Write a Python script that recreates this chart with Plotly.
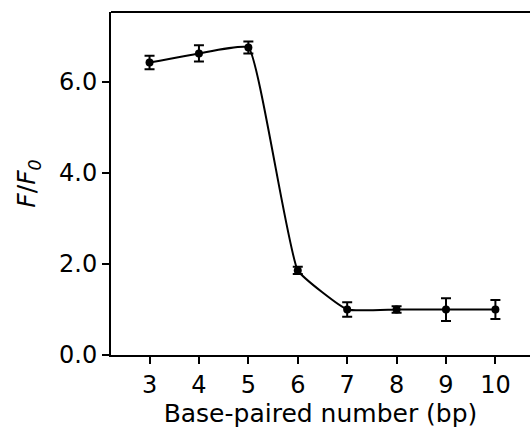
import plotly.graph_objects as go

bp = [3, 4, 5, 6, 7, 8, 9, 10]
ratio = [6.43, 6.63, 6.76, 1.86, 1.0, 1.0, 1.0, 1.0]
err = [0.15, 0.18, 0.13, 0.08, 0.16, 0.07, 0.25, 0.21]
x_ticks = [3, 4, 5, 6, 7, 8, 9, 10]
y_ticks = [0, 2, 4, 6]
y_labels = ["0.0", "2.0", "4.0", "6.0"]

FONT = "DejaVu Sans, Liberation Sans, Arial, sans-serif"

fig = go.Figure()
fig.add_trace(go.Scatter(
    x=bp, y=ratio, mode="lines+markers",
    line=dict(color="black", width=2, shape="spline", smoothing=0.35),
    marker=dict(color="black", size=8),
    error_y=dict(type="data", array=err, color="black", thickness=2, width=5),
    showlegend=False,
))

fig.update_layout(
    width=530, height=434,
    margin=dict(l=111, r=0, t=12, b=79),
    paper_bgcolor="white", plot_bgcolor="white",
    font=dict(family=FONT, size=24, color="black"),
    xaxis=dict(
        range=[2.22, 10.7], tickmode="array", tickvals=x_ticks,
        showline=True, linecolor="black", linewidth=2,
        ticks="outside", ticklen=7, tickwidth=2, tickcolor="black",
        showgrid=False, zeroline=False,
        tickfont=dict(size=24),
        title=dict(text="Base-paired number (bp)", standoff=6,
                   font=dict(size=25)),
    ),
    yaxis=dict(
        range=[0, 7.54], tickmode="array", tickvals=y_ticks, ticktext=y_labels,
        showline=True, linecolor="black", linewidth=2,
        ticks="outside", ticklen=7, tickwidth=2, tickcolor="black",
        showgrid=False, zeroline=False,
        tickfont=dict(size=24),
        title=dict(text="<i>F</i>/<i>F</i><sub><i>0</i></sub>", standoff=16,
                   font=dict(size=25)),
    ),
    shapes=[dict(type="line", xref="paper", yref="paper", x0=0, x1=1, y0=1, y1=1,
                 line=dict(color="black", width=2))],
)

fig.write_html("out.html")
